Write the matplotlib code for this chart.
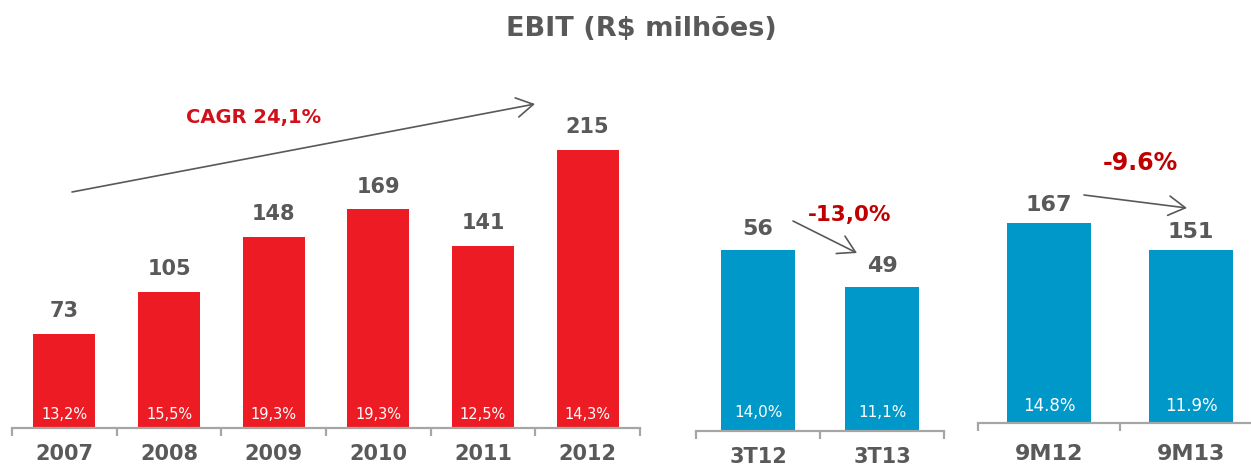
import matplotlib
matplotlib.use("Agg")
import matplotlib.pyplot as plt
from matplotlib.ticker import FixedLocator

W, H = 1251, 465

years = ['2007', '2008', '2009', '2010', '2011', '2012']
ebit_years = [73, 105, 148, 169, 141, 215]
margin_years = ['13,2%', '15,5%', '19,3%', '19,3%', '12,5%', '14,3%']

quarters = ['3T12', '3T13']
ebit_quarters = [56, 49]
margin_quarters = ['14,0%', '11,1%']

ninem = ['9M12', '9M13']
ebit_ninem = [167, 151]
margin_ninem = ['14.8%', '11.9%']

RED = '#ed1c24'
BLUE = '#0097c9'
GRAY = '#595959'
AXIS = '#a6a6a6'
DARKRED = '#c00000'


def px(x, y):
    return x / W, 1 - y / H


def make_ax(fig, x0, x1, ytop, ybase):
    return fig.add_axes([x0 / W, 1 - ybase / H, (x1 - x0) / W, (ybase - ytop) / H])


def style(ax, n, pad, size):
    for s in ['left', 'top', 'right']:
        ax.spines[s].set_visible(False)
    ax.spines['bottom'].set_color(AXIS)
    ax.spines['bottom'].set_linewidth(1.6)
    ax.set_yticks([])
    ax.set_xlim(-0.5, n - 0.5)
    ax.xaxis.set_minor_locator(FixedLocator([i - 0.5 for i in range(n + 1)]))
    ax.tick_params(axis='x', which='minor', length=6, width=1.6, color=AXIS, direction='out')
    ax.tick_params(axis='x', which='major', length=0, pad=pad, labelsize=size, labelcolor=GRAY)
    for lab in ax.get_xticklabels():
        lab.set_fontweight('bold')
    ax.patch.set_alpha(0)


def draw(ax, cats, vals, margins, color, ylo, yhi, width, val_off, val_size, pct_off, pct_size, pad, lab_size):
    x = list(range(len(cats)))
    ax.bar(x, vals, width=width, color=color, zorder=2)
    ax.set_ylim(ylo, yhi)
    ax.set_xticks(x)
    ax.set_xticklabels(cats)
    style(ax, len(cats), pad, lab_size)
    for i, v in enumerate(vals):
        ax.annotate(str(v), (i, v), xytext=(0, val_off), textcoords='offset points',
                    ha='center', va='center', fontsize=val_size, fontweight='bold', color=GRAY)
        ax.annotate(margins[i], (i, ylo), xytext=(0, pct_off), textcoords='offset points',
                    ha='center', va='center', fontsize=pct_size, color='white', zorder=3)


fig = plt.figure(figsize=(W / 100, H / 100), dpi=100)

ax1 = make_ax(fig, 12, 640, 60, 428)
draw(ax1, years, ebit_years, margin_years, RED, 0, 284.6, 0.59,
     16.5, 15, 9.5, 10.5, 11.5, 15)

ax2 = make_ax(fig, 696, 944, 60, 431)
draw(ax2, quarters, ebit_quarters, margin_quarters, BLUE, 21.76, 91.95, 0.6,
     15, 16, 13, 11, 11.5, 15)

ax3 = make_ax(fig, 978, 1262, 60, 423)
draw(ax3, ninem, ebit_ninem, margin_ninem, BLUE, 48.5, 263.5, 0.59,
     13, 16, 12.5, 12, 15, 16)

fig.text(*px(641, 29), 'EBIT (R$ milhões)', ha='center', va='center',
         fontsize=19.5, fontweight='bold', color=GRAY)

arrow = dict(arrowstyle='->,head_length=0.6,head_width=0.35', color=GRAY, lw=1.2,
             mutation_scale=20, shrinkA=0, shrinkB=0)
fig.add_artist(matplotlib.patches.FancyArrowPatch(px(72, 192), px(535, 104),
               transform=fig.transFigure, **arrow))
fig.add_artist(matplotlib.patches.FancyArrowPatch(px(793, 221), px(857, 253),
               transform=fig.transFigure, **arrow))
fig.add_artist(matplotlib.patches.FancyArrowPatch(px(1084, 195), px(1187, 208),
               transform=fig.transFigure, **arrow))

fig.text(*px(254, 118), 'CAGR 24,1%', ha='center', va='center',
         fontsize=14, fontweight='bold', color='#d0101a')
fig.text(*px(850, 215), '-13,0%', ha='center', va='center',
         fontsize=15.5, fontweight='bold', color=DARKRED)
fig.text(*px(1140, 163), '-9.6%', ha='center', va='center',
         fontsize=17, fontweight='bold', color=DARKRED)

fig.savefig('out.png', dpi=100)
